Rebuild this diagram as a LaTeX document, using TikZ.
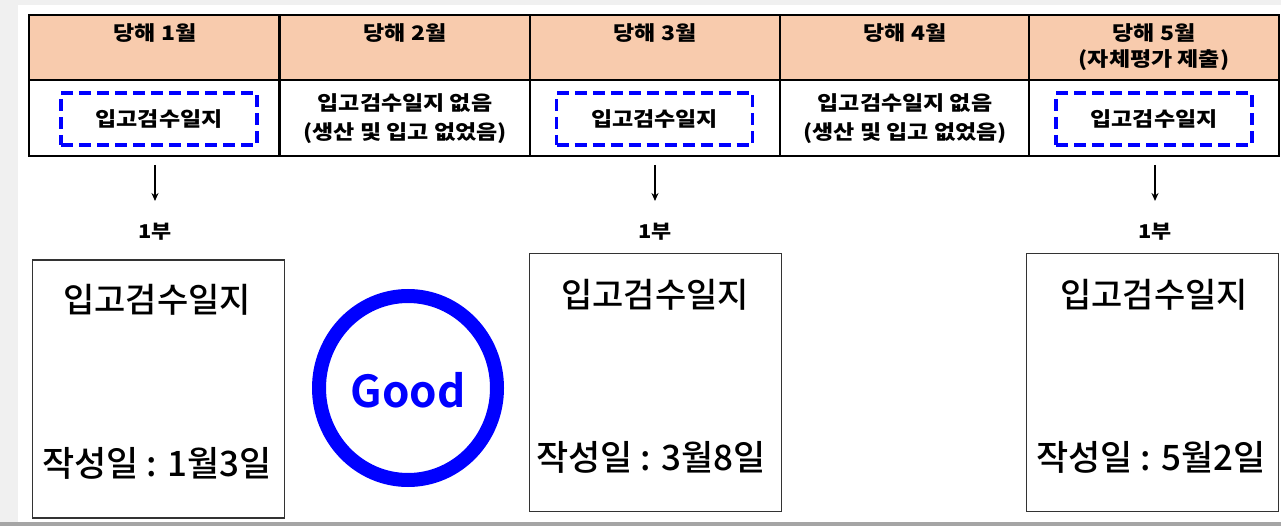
\documentclass[tikz,border=0pt]{standalone}
\usepackage{fontspec}
\newfontfamily\kr{Noto Sans CJK KR Medium}
\newfontfamily\krwide{Noto Sans CJK KR Black}[FakeStretch=1.15]
\newfontfamily\krbold{Noto Sans CJK KR Bold}
\usetikzlibrary{shapes.geometric,arrows.meta}
\definecolor{peach}{RGB}{248,203,173}
\definecolor{pureblue}{RGB}{0,0,255}
\definecolor{bgstrip}{RGB}{240,240,240}
\definecolor{bottomband}{RGB}{165,165,165}
\tikzset{
  cell/.style={draw=black, line width=1.4pt, inner sep=0pt, minimum width=250pt},
  hdrcell/.style={cell, fill=peach, minimum height=65pt},
  bodycell/.style={cell, fill=white, minimum height=76pt},
  hdrtext/.style={font=\krwide\fontsize{20}{22}\selectfont, inner sep=0pt},
  rowtext/.style={font=\krwide\fontsize{20}{29}\selectfont, align=center, inner sep=0pt},
  dbox/.style={draw=pureblue, line width=3.5pt, dash pattern=on 12pt off 6pt, minimum width=196pt, minimum height=52pt, inner sep=0pt, font=\krwide\fontsize{20}{22}\selectfont},
  arr/.style={line width=1.6pt, -{Stealth[length=8pt,width=7pt]}},
  copytext/.style={font=\krwide\fontsize{19}{20}\selectfont, inner sep=0pt},
  docbox/.style={draw=black!80, line width=1.4pt, minimum width=252pt, minimum height=258pt, inner sep=0pt, fill=white},
  doctitle/.style={font=\kr\fontsize{34}{38}\selectfont, inner sep=0pt},
  docdate/.style={font=\kr\fontsize{35}{38}\selectfont, inner sep=0pt},
}
\begin{document}
\begin{tikzpicture}[x=1pt,y=-1pt]
\useasboundingbox (0,0) rectangle (1281,526);
% page background
\fill[white] (0,0) rectangle (1281,526);
\fill[bgstrip] (0,0) rectangle (18,526);
\fill[bgstrip] (0,0) rectangle (1281,5);
\fill[bottomband] (0,521.5) rectangle (1281,526);

% header row
\node[hdrcell] (h1) at (154,47.5) {};
\node[hdrcell] (h2) at (405,47.5) {};
\node[hdrcell] (h3) at (655,47.5) {};
\node[hdrcell] (h4) at (905,47.5) {};
\node[hdrcell] (h5) at (1154,47.5) {};
% body row
\node[bodycell] (r1) at (154,118) {};
\node[bodycell] (r2) at (405,118) {};
\node[bodycell] (r3) at (655,118) {};
\node[bodycell] (r4) at (905,118) {};
\node[bodycell] (r5) at (1154,118) {};

% header texts
\node[hdrtext] (t1) at (155,33) {당해 1월};
\node[hdrtext] (t2) at (405,33) {당해 2월};
\node[hdrtext] (t3) at (655,33) {당해 3월};
\node[hdrtext] (t4) at (905,33) {당해 4월};
\node[hdrtext] (t5) at (1154,33) {당해 5월};
\node[hdrtext] (t5b) at (1154,60) {(자체평가 제출)};

% row texts
\node[dbox] (d1) at (159,119) {입고검수일지};
\node[rowtext] (n2) at (405,119) {입고검수일지 없음\\(생산 및 입고 없었음)};
\node[dbox] (d3) at (654.5,119) {입고검수일지};
\node[rowtext] (n4) at (905,119) {입고검수일지 없음\\(생산 및 입고 없었음)};
\node[dbox] (d5) at (1154,119) {입고검수일지};

% copies
\node[copytext] (c1) at (155,232) {1부};
\node[copytext] (c3) at (655,232) {1부};
\node[copytext] (c5) at (1155,232) {1부};
\coordinate (s1) at (155,165);
\coordinate (e1) at (155,201);
\coordinate (s3) at (655,165);
\coordinate (e3) at (655,201);
\coordinate (s5) at (1155,165);
\coordinate (e5) at (1155,201);
\draw[arr] (s1) -- (e1);
\draw[arr] (s3) -- (e3);
\draw[arr] (s5) -- (e5);

% documents
\node[docbox] (p1) at (158.5,389) {};
\node[doctitle] (p1t) at (157,300) {입고검수일지};
\node[docdate] (p1d) at (157,463) {작성일 : 1월3일};

\node[docbox] (p3) at (655.5,382.5) {};
\node[doctitle] (p3t) at (655,295) {입고검수일지};
\node[docdate] (p3d) at (651,457) {작성일 : 3월8일};

\node[docbox] (p5) at (1152.5,382.5) {};
\node[doctitle] (p5t) at (1154,295) {입고검수일지};
\node[docdate] (p5d) at (1151,457) {작성일 : 5월2일};

% good mark
\node[ellipse, draw=pureblue, line width=14pt, minimum width=178pt, minimum height=184pt, inner sep=0pt] (good) at (408,388) {};
\node[font=\krbold\fontsize{44}{48}\selectfont, text=pureblue, inner sep=0pt] (goodt) at (408,390) {Good};
\end{tikzpicture}
\end{document}
